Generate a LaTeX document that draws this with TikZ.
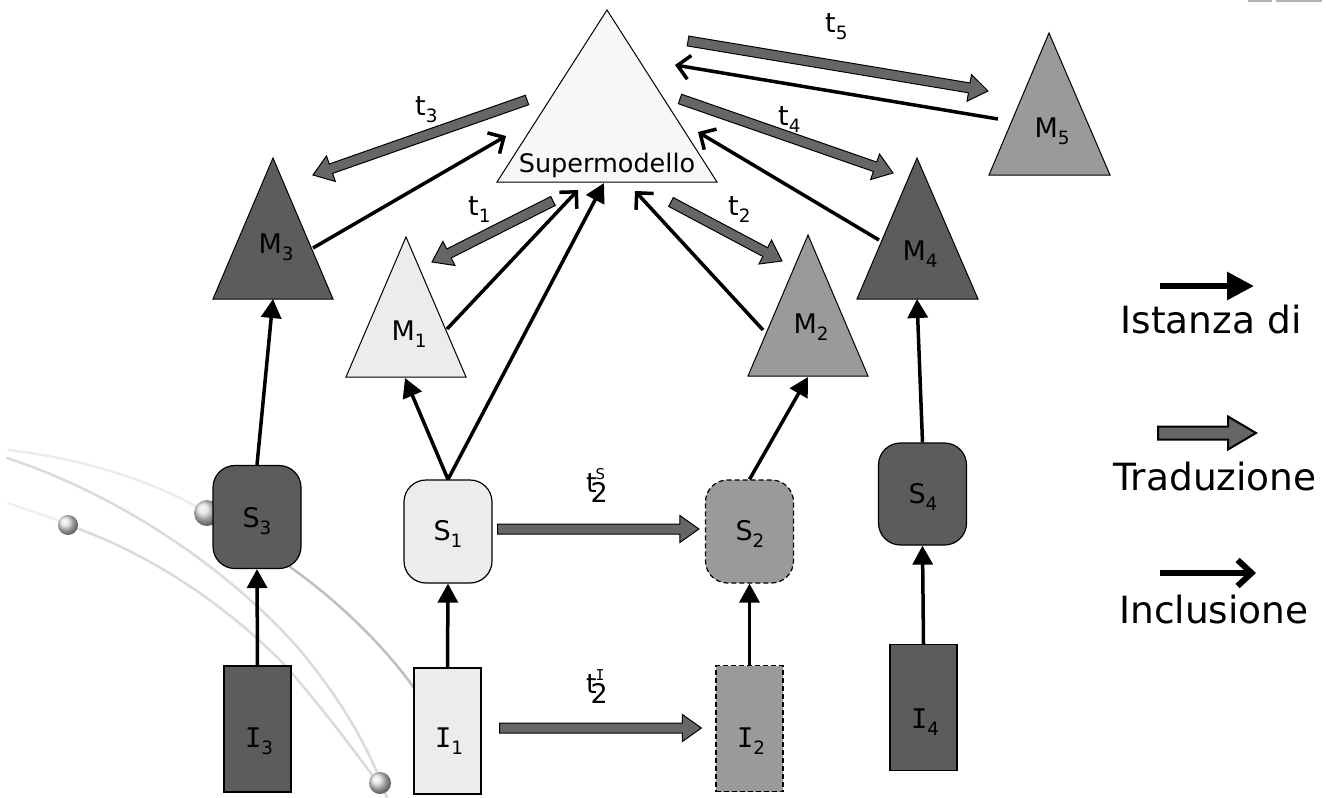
\documentclass[tikz,border=0pt]{standalone}
\usepackage{fontspec}
\setmainfont{DejaVu Sans}
\newfontfamily\monofont{DejaVu Sans Mono}
\usetikzlibrary{calc,arrows.meta}

\definecolor{darkfill}{HTML}{5C5C5C}
\definecolor{midfill}{HTML}{9A9A9A}
\definecolor{lightfill}{HTML}{ECECEC}
\definecolor{superfill}{HTML}{F7F7F7}
\definecolor{transfill}{HTML}{666666}

% subscript in the label font
\newcommand\sub[1]{\raisebox{-0.28em}{\scalebox{0.68}{#1}}}
\newcommand\Ich{{\monofont I}}
% t with a superscript and a lowered 2
\newcommand\ttwo[1]{t\rlap{\kern-0.04em\raisebox{0.46em}{\scalebox{0.55}{#1}}}\kern-0.23em\raisebox{-0.38em}{2}}

% block arrow: start, end, half shaft, half head, head length
\newcommand\transarrow[6][]{%
  \coordinate (ta-h) at ($(#3)!#6pt!(#2)$);
  \filldraw[trans,#1] ($(#2)!#4pt!90:(#3)$) -- ($(ta-h)!#4pt!90:(#3)$)
    -- ($(ta-h)!#5pt!90:(#3)$) -- (#3) -- ($(ta-h)!#5pt!-90:(#3)$)
    -- ($(ta-h)!#4pt!-90:(#3)$) -- ($(#2)!#4pt!-90:(#3)$) -- cycle;}

\tikzset{
  lbl/.style={font=\fontsize{27}{27}\selectfont, anchor=base, inner sep=0pt},
  tlbl/.style={font=\fontsize{27}{27}\selectfont, anchor=base west, inner sep=0pt},
  legend/.style={font=\fontsize{37.5}{37.5}\selectfont, anchor=base, inner sep=0pt},
  tri/.style={draw=black, line width=1pt, line join=miter},
  sbox/.style={draw=black, line width=1.2pt, rounded corners=22pt, minimum width=88pt, minimum height=103pt, inner sep=0pt},
  ibox/.style={draw=black, line width=1.2pt, minimum width=67pt, minimum height=126pt, inner sep=0pt},
  dashedborder/.style={dash pattern=on 5pt off 3pt},
  inst/.style={line width=3.5pt, -{Triangle[length=19pt,width=20pt]}},
  incl/.style={line width=3.5pt, -{Straight Barb[length=12pt,width=24pt]}},
  trans/.style={fill=transfill, draw=black, line width=1pt, line join=miter},
  deco/.style={line width=2.5pt, line cap=round},
}

\begin{document}
\begin{tikzpicture}[x=1pt, y=-1pt]
\useasboundingbox (0,0) rectangle (1326,798);
\fill[white] (0,0) rectangle (1326,798);

% background ornament: curved strokes and beads
\fill[gray!60] (1248,0) rectangle (1272,2);
\fill[gray!60] (1276,0) rectangle (1322,2);
\draw[deco, gray!15] (8,450) .. controls (80,458) and (150,480) .. (203,510);
\draw[deco, gray!28] (7,458) .. controls (120,495) and (230,570) .. (300,650) .. controls (345,705) and (370,750) .. (387,798);
\draw[deco, gray!12] (8,503) -- (60,521);
\draw[deco, gray!28] (68,525) .. controls (140,550) and (215,595) .. (283,663) .. controls (320,705) and (350,745) .. (378,783);
\draw[deco, gray!50] (290,567) .. controls (330,595) and (380,640) .. (414,688);
\shade[ball color=gray!25] (207,513) circle (13);
\shade[ball color=gray!22] (68,525) circle (10);
\shade[ball color=gray!25] (380,783) circle (11);

% models (triangles)
\draw[tri, fill=superfill] (497,182) -- (717,182) -- (607,10) -- cycle;
\draw[tri, fill=darkfill] (213,299) -- (333,299) -- (273,158) -- cycle;
\draw[tri, fill=lightfill] (346,377) -- (466,377) -- (406,237) -- cycle;
\draw[tri, fill=midfill] (748,376) -- (868,376) -- (808,235) -- cycle;
\draw[tri, fill=darkfill] (857,299) -- (978,299) -- (917,158) -- cycle;
\draw[tri, fill=midfill] (989,175) -- (1110,175) -- (1049,33) -- cycle;

\node[lbl, font=\fontsize{25.5}{25.5}\selectfont] (SM) at (607,172) {Supermodello};
\node[lbl] (M3) at (276,253) {M\sub{3}};
\node[lbl] (M1) at (409,340) {M\sub{1}};
\node[lbl] (M2) at (811,333) {M\sub{2}};
\node[lbl] (M4) at (920,260) {M\sub{4}};
\node[lbl] (M5) at (1052,137) {M\sub{5}};

% anchor points on the triangles
\coordinate (SMb) at (604,183);
\coordinate (M3b) at (273,299);
\coordinate (M1b) at (405,378);
\coordinate (M2b) at (808,377);
\coordinate (M4b) at (917,299);
\coordinate (M3r) at (313,248);
\coordinate (M1r) at (447,329);
\coordinate (M2l) at (763,330);
\coordinate (M4l) at (879,240);
\coordinate (M5l) at (998,119);
\coordinate (SMl3) at (506,136);
\coordinate (SMl1) at (578,190);
\coordinate (SMr2) at (635,191);
\coordinate (SMr4) at (698,132);
\coordinate (SMr5) at (675,65);

% schemas
\node[sbox, fill=darkfill] (S3) at (257,517) {};
\node[sbox, fill=lightfill] (S1) at (448,531.5) {};
\node[sbox, fill=midfill, dashedborder] (S2) at (749.5,531.5) {};
\node[sbox, fill=darkfill, minimum height=102pt] (S4) at (922.5,494) {};
\node[lbl] (S3t) at (257,527) {S\sub{3}};
\node[lbl] (S1t) at (448,540) {S\sub{1}};
\node[lbl] (S2t) at (750,540) {S\sub{2}};
\node[lbl] (S4t) at (923,503) {S\sub{4}};

% instances
\node[ibox, fill=darkfill] (I3) at (257.5,729) {};
\node[ibox, fill=lightfill] (I1) at (447.5,731) {};
\node[ibox, fill=midfill, dashedborder] (I2) at (749.5,728.5) {};
\node[ibox, fill=darkfill] (I4) at (923.5,707.5) {};
\node[lbl] (I3t) at (259,747) {\Ich\sub{3}};
\node[lbl] (I1t) at (449,747) {\Ich\sub{1}};
\node[lbl] (I2t) at (751,747) {\Ich\sub{2}};
\node[lbl] (I4t) at (925,728) {\Ich\sub{4}};

% instance-of
\draw[inst] (I3.north) -- (S3.south);
\draw[inst] (S3.north) -- (M3b);
\draw[inst] (I1.north) -- (S1.south);
\draw[inst] (S1.north) -- (M1b);
\draw[inst] (S1.north) -- (SMb);
\draw[inst] (I2.north) -- (S2.south);
\draw[inst] (S2.north) -- (M2b);
\draw[inst] (I4.north) -- (S4.south);
\draw[inst] (S4.north) -- (M4b);

% inclusion
\draw[incl] (M3r) -- (SMl3);
\draw[incl] (M1r) -- (SMl1);
\draw[incl] (M2l) -- (SMr2);
\draw[incl] (M4l) -- (SMr4);
\draw[incl] (M5l) -- (SMr5);

% translations
\coordinate (t3a) at (527,100);  \coordinate (t3b) at (313,175);
\coordinate (t1a) at (553,201);  \coordinate (t1b) at (432,262);
\coordinate (t2a) at (671,202);  \coordinate (t2b) at (782,261);
\coordinate (t4a) at (680,99);   \coordinate (t4b) at (893,173);
\coordinate (t5a) at (688,41);   \coordinate (t5b) at (988,91);
\coordinate (tSa) at ($(S1.east)+(5,-2.5)$);
\coordinate (tSb) at ($(S2.west)+(-6,-2.5)$);
\coordinate (tIa) at ($(I1.east)+(18,-3)$);
\coordinate (tIb) at ($(I2.west)+(-14,-0.5)$);
\transarrow{t3a}{t3b}{5}{13.5}{19}
\transarrow{t1a}{t1b}{5}{13.5}{19}
\transarrow{t2a}{t2b}{5}{13.5}{19}
\transarrow{t4a}{t4b}{5}{13.5}{19}
\transarrow{t5a}{t5b}{5}{13.5}{19}
\transarrow{tSa}{tSb}{5}{13.5}{19}
\transarrow{tIa}{tIb}{5}{13.5}{19}

\node[tlbl] (lt3) at (415,115) {t\sub{3}};
\node[tlbl] (lt1) at (468,215) {t\sub{1}};
\node[tlbl] (lt2) at (728,215) {t\sub{2}};
\node[tlbl] (lt4) at (778,125) {t\sub{4}};
\node[tlbl] (lt5) at (825,32) {t\sub{5}};
\node[tlbl] (ltS) at (586,492) {\ttwo{S}};
\node[tlbl] (ltI) at (586,693) {\ttwo{\Ich}};

% legend
\coordinate (lgA1) at (1160,286); \coordinate (lgA2) at (1254,286);
\coordinate (lgB1) at (1158,433); \coordinate (lgB2) at (1256,433);
\coordinate (lgC1) at (1160,573); \coordinate (lgC2) at (1256,573);
\draw[line width=6pt, -{Triangle[length=27pt,width=27pt]}] (lgA1) -- (lgA2);
\transarrow[line width=2pt]{lgB1}{lgB2}{6.5}{16.5}{28}
\draw[line width=6pt, -{Straight Barb[length=14pt,width=26pt]}] (lgC1) -- (lgC2);
\node[legend] (lgA) at (1211,333) {Istanza di};
\node[legend] (lgB) at (1215,490) {Traduzione};
\node[legend] (lgC) at (1214,623) {Inclusione};
\end{tikzpicture}
\end{document}
